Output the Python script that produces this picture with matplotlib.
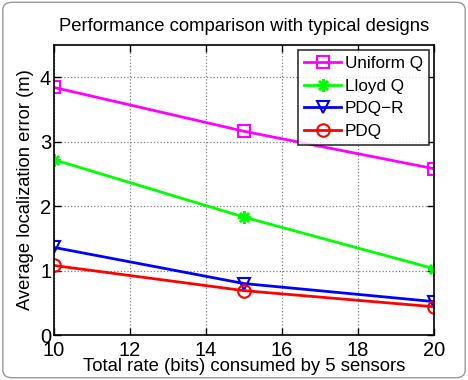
import matplotlib.pyplot as plt
from matplotlib.patches import FancyBboxPatch

rate = [10, 15, 20]
uniform_q = [3.84, 3.16, 2.58]
lloyd_q = [2.72, 1.83, 1.03]
pdq_r = [1.36, 0.80, 0.52]
pdq = [1.08, 0.69, 0.44]

plt.rcParams['font.family'] = ['Liberation Sans', 'DejaVu Sans']

fig = plt.figure(figsize=(4.68, 3.8), dpi=100)
ax = fig.add_axes([0.1154, 0.118, 0.812, 0.764])

ax.plot(rate, uniform_q, color='#ff00ff', marker='s', mfc='none', ms=8, mew=1.5, lw=2, label='Uniform Q')
ax.plot(rate, lloyd_q, color='#00ff00', marker=(8, 2, 0), ms=9, mew=1.8, lw=2, label='Lloyd Q')
ax.plot(rate, pdq_r, color='#0000ff', marker='v', mfc='none', ms=9, mew=1.5, lw=2, label='PDQ\u2212R')
ax.plot(rate, pdq, color='#ff0000', marker='o', mfc='none', ms=9, mew=1.5, lw=2, label='PDQ')

ax.set_xlim(10, 20)
ax.set_ylim(0, 4.5)
ax.set_xticks([10, 12, 14, 16, 18, 20])
ax.set_yticks([0, 1, 2, 3, 4])
ax.tick_params(direction='in', labelsize=14.5, length=5, width=1, top=True, right=True)
ax.tick_params(axis='x', pad=4)
ax.tick_params(axis='y', pad=2)
ax.grid(True, linestyle=':', color='#808080', lw=0.9)
for s in ax.spines.values():
    s.set_linewidth(1.2)

ax.set_xlabel('Total rate (bits) consumed by 5 sensors', fontsize=13.3, labelpad=-1)
ax.set_ylabel('Average localization error (m)', fontsize=13.2, labelpad=4)
ax.set_title('Performance comparison with typical designs', fontsize=13.3, pad=10)

leg = ax.legend(loc='upper right', fontsize=12.3, frameon=True, fancybox=False,
                edgecolor='black', borderaxespad=0.3, handlelength=2.2,
                handletextpad=0.2, labelspacing=0.45, borderpad=0.35)
leg.get_frame().set_linewidth(1.2)

border = FancyBboxPatch((0.006, 0.006), 0.988, 0.988, boxstyle='round,pad=0,rounding_size=0.02',
                        transform=fig.transFigure, fill=False, edgecolor='#999999', lw=1)
fig.patches.append(border)

fig.savefig('out.png', dpi=100)
